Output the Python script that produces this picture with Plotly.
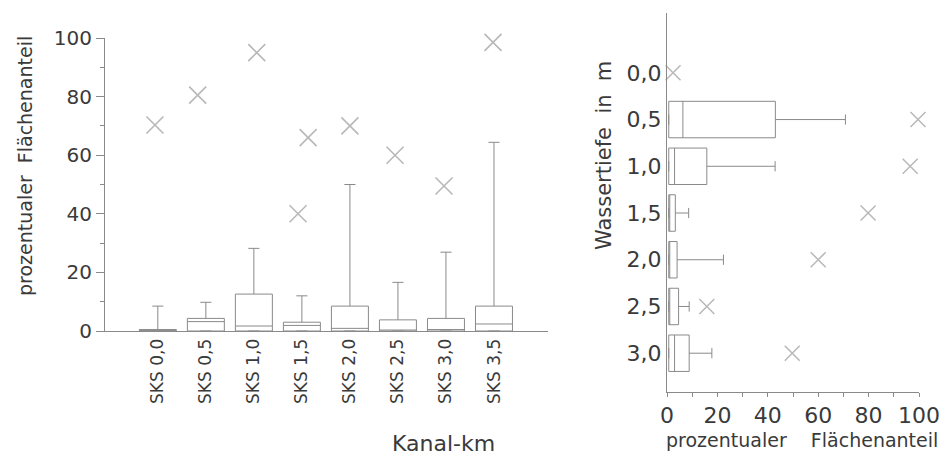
import plotly.graph_objects as go

W, H = 950, 459

# ---------------- data: left chart (Kanal-km) ----------------
km_labels = ["SKS 0,0", "SKS 0,5", "SKS 1,0", "SKS 1,5", "SKS 2,0", "SKS 2,5", "SKS 3,0", "SKS 3,5"]
km_q1 = [0, 0, 0, 0, 0, 0, 0, 0]
km_median = [0.2, 3.2, 1.7, 1.9, 0.9, 0.2, 0.5, 2.4]
km_q3 = [0.5, 4.3, 12.6, 3.0, 8.5, 3.8, 4.3, 8.5]
km_upper = [8.5, 9.8, 28.2, 12.0, 50.0, 16.6, 26.9, 64.4]
# outliers: (category index, small horizontal offset, value)
km_out_idx = [0, 1, 2, 3, 3, 4, 5, 6, 7]
km_out_off = [-0.06, -0.17, 0.06, 0.13, -0.08, 0.0, -0.06, -0.04, -0.02]
km_out_val = [70.3, 80.5, 95.0, 66.0, 40.0, 70.0, 60.0, 49.5, 98.5]

# ---------------- data: right chart (Wassertiefe) ----------------
depth_labels = ["0,0", "0,5", "1,0", "1,5", "2,0", "2,5", "3,0"]
depth_box_idx = [1, 2, 3, 4, 5, 6]
depth_q1 = [0.7, 0.7, 0.7, 0.7, 0.7, 0.7]
depth_median = [6.3, 3.0, 1.0, 1.0, 1.0, 3.0]
depth_q3 = [43.0, 15.8, 3.3, 4.0, 4.6, 8.8]
depth_upper = [70.8, 42.9, 8.6, 22.4, 8.8, 17.8]
depth_out_idx = [0, 1, 2, 3, 4, 5, 6]
depth_out_val = [2.4, 99.6, 96.5, 79.8, 60.0, 15.8, 49.7]

LINE = "#8a8a8a"
CROSS = "#b8b8b8"
TXT = "#3a3a3a"
FONT = "DejaVu Sans"

def px_x(p):
    return p / W

def px_y(p):
    return 1 - p / H

fig = go.Figure()

# left boxes
km_pos = list(range(len(km_labels)))
fig.add_trace(go.Box(
    x=km_pos, q1=km_q1, median=km_median, q3=km_q3,
    lowerfence=km_q1, upperfence=km_upper,
    width=0.77, whiskerwidth=0.3, boxpoints=False,
    fillcolor="rgba(255,255,255,0)", line=dict(color=LINE, width=1),
    xaxis="x", yaxis="y", showlegend=False, hoverinfo="skip",
))
fig.add_trace(go.Scatter(
    x=[km_pos[i] + o for i, o in zip(km_out_idx, km_out_off)], y=km_out_val,
    mode="markers", cliponaxis=False,
    marker=dict(symbol="x-thin", size=17, line=dict(width=1.6, color=CROSS)),
    xaxis="x", yaxis="y", showlegend=False, hoverinfo="skip",
))

# right boxes (horizontal)
fig.add_trace(go.Box(
    y=depth_box_idx, q1=depth_q1, median=depth_median, q3=depth_q3,
    lowerfence=depth_q1, upperfence=depth_upper, orientation="h",
    width=0.78, whiskerwidth=0.28, boxpoints=False,
    fillcolor="rgba(255,255,255,0)", line=dict(color=LINE, width=1),
    xaxis="x2", yaxis="y2", showlegend=False, hoverinfo="skip",
))
fig.add_trace(go.Scatter(
    x=depth_out_val, y=depth_out_idx, mode="markers", cliponaxis=False,
    marker=dict(symbol="x-thin", size=15, line=dict(width=1.5, color=CROSS)),
    xaxis="x2", yaxis="y2", showlegend=False, hoverinfo="skip",
))

axis_common = dict(showgrid=False, zeroline=False, showline=True, automargin=False,
                   linecolor=LINE, linewidth=1, tickcolor=LINE)

fig.update_layout(
    width=W, height=H,
    margin=dict(l=0, r=0, t=0, b=0, autoexpand=False),
    paper_bgcolor="white", plot_bgcolor="white",
    xaxis=dict(domain=[px_x(105), px_x(548)], range=[-1.1, 8.125],
               tickvals=km_pos, ticktext=km_labels, tickangle=-90,
               ticks="", anchor="y",
               tickfont=dict(family=FONT, color=TXT, size=17), **axis_common),
    yaxis=dict(domain=[px_y(331), px_y(38)], range=[0, 100],
               tickvals=[0, 20, 40, 60, 80, 100], ticks="outside", ticklen=8,
               ticksuffix="\u2002",
               minor=dict(tickvals=[10, 30, 50, 70, 90], ticks="outside", ticklen=4, tickcolor=LINE),
               anchor="x",
               tickfont=dict(family=FONT, color=TXT, size=20), **axis_common),
    xaxis2=dict(domain=[px_x(667), px_x(919)], range=[0, 100],
                tickvals=[0, 20, 40, 60, 80, 100], ticks="outside", ticklen=4,
                minor=dict(tickvals=[10, 30, 50, 70, 90], ticks="outside", ticklen=4, tickcolor=LINE),
                anchor="y2",
                tickfont=dict(family=FONT, color=TXT, size=22), **axis_common),
    yaxis2=dict(domain=[px_y(392), px_y(13)], range=[6.83, -1.28],
                tickvals=list(range(len(depth_labels))), ticktext=depth_labels,
                ticks="", anchor="x2",
                tickfont=dict(family=FONT, color=TXT, size=22), **axis_common),
)

ann_font = dict(family=FONT, color=TXT)
fig.add_annotation(text="prozentualer&nbsp;&nbsp;Flächenanteil", x=px_x(25), y=px_y(166),
                   xref="paper", yref="paper", showarrow=False, textangle=-90,
                   font=dict(**ann_font, size=19), xanchor="center", yanchor="middle")
fig.add_annotation(text="Kanal-km", x=px_x(443), y=px_y(443),
                   xref="paper", yref="paper", showarrow=False,
                   font=dict(**ann_font, size=22), xanchor="center", yanchor="middle")
fig.add_annotation(text="Wassertiefe&nbsp;&nbsp;in&nbsp;&nbsp;m", x=px_x(604), y=px_y(156),
                   xref="paper", yref="paper", showarrow=False, textangle=-90,
                   font=dict(**ann_font, size=21), xanchor="center", yanchor="middle")
fig.add_annotation(text="prozentualer&nbsp;&nbsp;&nbsp;&nbsp;Flächenanteil", x=px_x(802), y=px_y(440),
                   xref="paper", yref="paper", showarrow=False,
                   font=dict(**ann_font, size=19), xanchor="center", yanchor="middle")

fig.write_html("out.html", config={"displayModeBar": False},
               post_script="document.body.style.margin='0px';document.body.style.overflow='hidden';")
